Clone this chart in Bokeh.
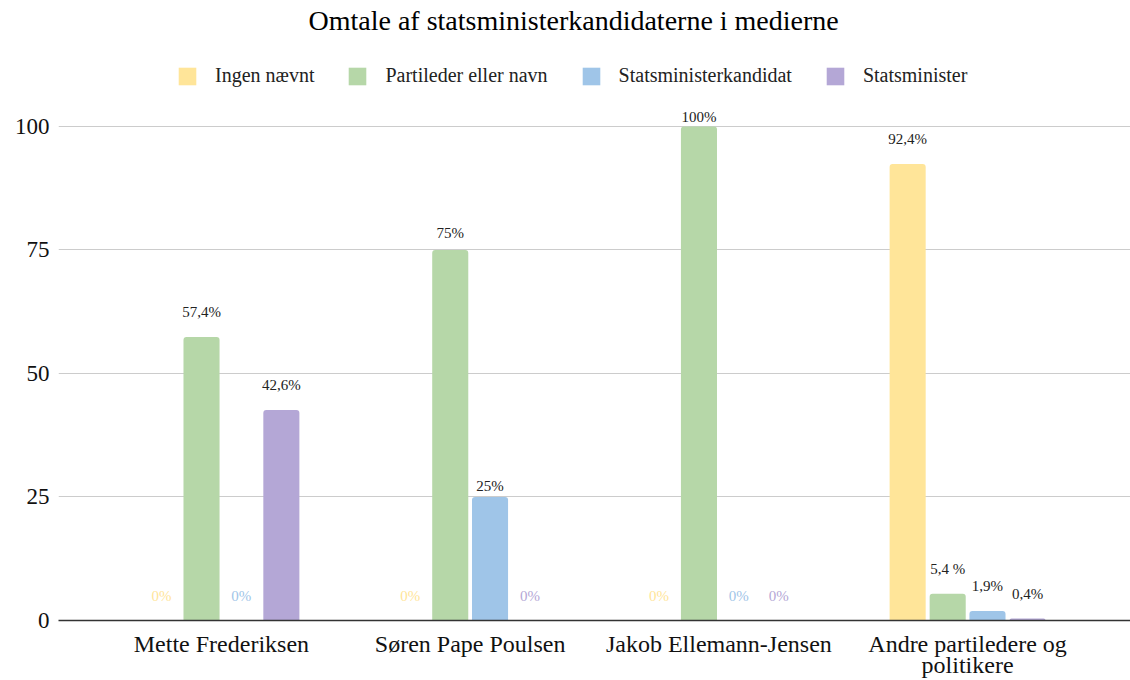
from bokeh.plotting import figure
from bokeh.models import (ColumnDataSource, FactorRange, Range1d, FixedTicker,
                          LabelSet, Legend, LegendItem, CategoricalAxis,
                          CustomJSTickFormatter)
from bokeh.transform import dodge
from bokeh.embed import file_html
from bokeh.resources import INLINE

# ---- data ---------------------------------------------------------------
candidates = ["Mette Frederiksen", "Søren Pape Poulsen",
              "Jakob Ellemann-Jensen", "Andre partiledere og politikere"]
series_names = ["Ingen nævnt", "Partileder eller navn",
                "Statsministerkandidat", "Statsminister"]

ingen_naevnt = [0, 0, 0, 92.4]
partileder_eller_navn = [57.4, 75, 100, 5.4]
statsministerkandidat = [0, 25, 0, 1.9]
statsminister = [42.6, 0, 0, 0.4]

ingen_naevnt_labels = ["0%", "0%", "0%", "92,4%"]
partileder_eller_navn_labels = ["57,4%", "75%", "100%", "5,4 %"]
statsministerkandidat_labels = ["0%", "25%", "0%", "1,9%"]
statsminister_labels = ["42,6%", "0%", "0%", "0,4%"]

y_ticks = [0, 25, 50, 75, 100]

# long category name is broken over two axis rows
wrapped_first = "Andre partiledere og"
wrapped_second = "politikere"

# ---- style --------------------------------------------------------------
SERIF = "Liberation Serif"
colors = ["#ffe599", "#b6d7a8", "#9fc5e8", "#b4a7d6"]
offsets = [-0.241, -0.080, 0.080, 0.241]
BAR_W = 0.145
LABEL_GAP = 25          # px from bar top to label centre
label_nudge = {         # crowded labels sit closer to their bar
    ("Partileder eller navn", "Søren Pape Poulsen"): 17,
    ("Statsministerkandidat", "Søren Pape Poulsen"): 11,
    ("Partileder eller navn", "Jakob Ellemann-Jensen"): 9,
}

values = [ingen_naevnt, partileder_eller_navn, statsministerkandidat, statsminister]
labels = [ingen_naevnt_labels, partileder_eller_navn_labels,
          statsministerkandidat_labels, statsminister_labels]

p = figure(width=1130, height=680,
           x_range=FactorRange(*candidates, range_padding=0.0775),
           y_range=Range1d(0, 118.4),
           output_backend="svg", toolbar_location=None,
           min_border_left=58, min_border_right=0,
           min_border_top=35, min_border_bottom=0)
p.outline_line_color = None
p.background_fill_color = "white"

# title centred on the page rather than on the plot frame
p.title.text = "Omtale af statsministerkandidaterne i medierne"
p.title.align = "left"
p.title.offset = 250
p.title.text_font = SERIF
p.title.text_font_size = "28px"
p.title.text_font_style = "normal"
p.title.text_color = "#000000"
p.title.standoff = 0

legend_items = []
for name, vals, labs, col, off in zip(series_names, values, labels, colors, offsets):
    src = ColumnDataSource(dict(
        cat=candidates,
        value=vals,
        label=labs,
        dy=[label_nudge.get((name, c), LABEL_GAP) for c in candidates],
        tcolor=[col if v == 0 else "#222222" for v in vals],
    ))
    r = p.vbar(x=dodge("cat", off, range=p.x_range), top="value", width=BAR_W,
               source=src, fill_color=col, line_color=None,
               border_radius=(3, 3, 0, 0))
    legend_items.append(LegendItem(label=name, renderers=[r]))
    p.add_layout(LabelSet(x=dodge("cat", off, range=p.x_range), y="value",
                          text="label", y_offset="dy", source=src,
                          text_align="center", text_baseline="middle",
                          text_font=SERIF, text_font_size="15px",
                          text_color="tcolor",
                          background_fill_color="white"))

# legend row centred on the page, just under the title
legend = Legend(items=legend_items, orientation="horizontal", location=(118, 533),
                glyph_width=22, glyph_height=22, label_standoff=17, spacing=32,
                label_text_font=SERIF, label_text_font_size="20px",
                label_text_color="#222222",
                border_line_color=None, background_fill_alpha=0,
                padding=0, margin=0)
p.add_layout(legend, "center")

# axes
p.yaxis.ticker = FixedTicker(ticks=y_ticks)
p.yaxis.axis_line_color = None
p.yaxis.major_tick_line_color = None
p.yaxis.minor_tick_line_color = None
p.yaxis.major_tick_out = 0
p.yaxis.major_tick_in = 0
p.yaxis.major_label_text_font = SERIF
p.yaxis.major_label_text_font_size = "23px"
p.yaxis.major_label_text_color = "#111111"
p.yaxis.major_label_standoff = 9

p.xaxis.axis_line_color = "#333333"
p.xaxis.axis_line_width = 1.5
p.xaxis.major_tick_line_color = None
p.xaxis.minor_tick_line_color = None
p.xaxis.major_tick_out = 0
p.xaxis.major_tick_in = 0
p.xaxis.major_label_text_font = SERIF
p.xaxis.major_label_text_font_size = "24px"
p.xaxis.major_label_text_color = "#111111"
p.xaxis.major_label_standoff = 10
p.xaxis.formatter = CustomJSTickFormatter(
    args=dict(full=candidates[-1], first=wrapped_first),
    code="return tick == full ? first : tick;")

wrap_axis = CategoricalAxis(
    axis_line_color=None, major_tick_line_color=None, minor_tick_line_color=None,
    major_tick_out=0, major_tick_in=0,
    major_label_text_font=SERIF, major_label_text_font_size="24px",
    major_label_text_color="#111111", major_label_standoff=-8,
    formatter=CustomJSTickFormatter(
        args=dict(full=candidates[-1], second=wrapped_second),
        code="return tick == full ? second : '';"))
p.add_layout(wrap_axis, "below")

p.xgrid.grid_line_color = None
p.ygrid.grid_line_color = "#cccccc"
p.ygrid.grid_line_width = 1

open("out.html", "w").write(file_html(p, INLINE))
